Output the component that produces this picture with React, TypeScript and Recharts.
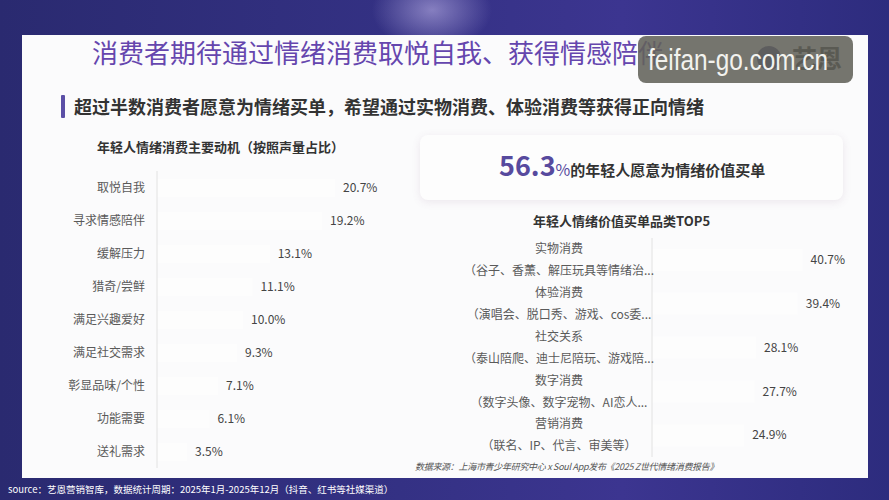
import React from 'react';
import { BarChart, Bar, XAxis, YAxis, LabelList } from 'recharts';

const motiveNames = ['取悦自我', '寻求情感陪伴', '缓解压力', '猎奇/尝鲜', '满足兴趣爱好', '满足社交需求', '彰显品味/个性', '功能需要', '送礼需求'];
const motiveValues = [20.7, 19.2, 13.1, 11.1, 10.0, 9.3, 7.1, 6.1, 3.5];

const categoryNames = ['实物消费', '体验消费', '社交关系', '数字消费', '营销消费'];
const categoryNotes = ['（谷子、香薰、解压玩具等情绪治...', '（演唱会、脱口秀、游戏、cos委...', '（泰山陪爬、迪士尼陪玩、游戏陪...', '（数字头像、数字宠物、AI恋人...', '（联名、IP、代言、审美等）'];
const categoryValues = [40.7, 39.4, 28.1, 27.7, 24.9];

const motiveData = motiveNames.map((name, i) => ({ name, value: motiveValues[i] }));
const categoryData = categoryNames.map((name, i) => ({ name, note: categoryNotes[i], value: categoryValues[i] }));

const FONT = '"Noto Sans CJK SC", "Noto Sans", sans-serif';
const fmt = (v: number) => `${v.toFixed(1)}%`;

const LeftTick = (props: any) => {
  const { x, y, payload } = props;
  return (
    <text x={x} y={y} dy="0.355em" textAnchor="end" fontSize={12} fill="#5a5a5a" fontFamily={FONT}>
      {payload.value}
    </text>
  );
};

const RightTick = (props: any) => {
  const { x, y, payload, index } = props;
  const note = categoryNotes[index] ?? '';
  return (
    <g>
      <text x={x - 93} y={y - 11} dy="0.355em" textAnchor="middle" fontSize={12} fill="#5a5a5a" fontFamily={FONT}>
        {payload.value}
      </text>
      <text x={x - 93} y={y + 11} dy="0.355em" textAnchor="middle" fontSize={12} fill="#5a5a5a" fontFamily={FONT}>
        {note}
      </text>
    </g>
  );
};

export default function App() {
  return (
    <div
      style={{
        position: 'absolute',
        left: 0,
        top: 0,
        width: 889,
        height: 500,
        overflow: 'hidden',
        fontFamily: FONT,
        background:
          'radial-gradient(ellipse 60px 40px at 432px 10px, rgba(200,190,240,0.55), rgba(200,190,240,0) 100%), linear-gradient(90deg, #2a2a70 0%, #343184 45%, #3c3590 70%, #2d2c7e 100%)',
      }}
    >
      {/* white card */}
      <div style={{ position: 'absolute', left: 22, top: 35, width: 846, height: 443, background: '#fbfbfc' }} />

      {/* title */}
      <div
        style={{
          position: 'absolute',
          left: 92,
          top: 34,
          fontSize: 26,
          whiteSpace: 'nowrap',
          lineHeight: '36px',
          fontWeight: 400,
          color: '#6546ae',
        }}
      >
        消费者期待通过情绪消费取悦自我、获得情感陪伴
      </div>

      {/* logo under watermark */}
      <div style={{ position: 'absolute', left: 757, top: 46, width: 24, height: 24, borderRadius: 12, background: '#3f3878' }} />
      <div style={{ position: 'absolute', left: 792, top: 40, fontSize: 25, fontWeight: 700, color: '#222', lineHeight: '34px' }}>艺恩</div>

      {/* watermark */}
      <div
        style={{
          position: 'absolute',
          left: 638,
          top: 36,
          width: 215,
          height: 47,
          borderRadius: 8,
          background: 'rgba(98,98,90,0.88)',
        }}
      />
      <div
        style={{
          position: 'absolute',
          left: 648,
          top: 41,
          fontSize: 29,
          color: '#f2f2ee',
          fontFamily: '"Liberation Sans", "Roboto", sans-serif',
          lineHeight: '38px',
          whiteSpace: 'nowrap',
          transform: 'scaleX(0.84)',
          transformOrigin: 'left center',
        }}
      >
        feifan-go.com.cn
      </div>

      {/* subtitle */}
      <div style={{ position: 'absolute', left: 61, top: 95, width: 4, height: 23, background: '#5b4fa6', borderRadius: 1 }} />
      <div style={{ position: 'absolute', left: 74, top: 94, fontSize: 18, fontWeight: 700, color: '#333', lineHeight: '24px', whiteSpace: 'nowrap' }}>
        超过半数消费者愿意为情绪买单，希望通过实物消费、体验消费等获得正向情绪
      </div>

      {/* left chart title */}
      <div style={{ position: 'absolute', left: 97, top: 138, fontSize: 13, fontWeight: 700, color: '#333', lineHeight: '18px', whiteSpace: 'nowrap' }}>
        年轻人情绪消费主要动机（按照声量占比）
      </div>

      {/* highlight box */}
      <div
        style={{
          position: 'absolute',
          left: 420,
          top: 135,
          width: 423,
          height: 65,
          borderRadius: 8,
          background: '#fdfdfd',
          boxShadow: '0 2px 8px rgba(120,80,120,0.12)',
        }}
      />
      <div style={{ position: 'absolute', left: 499, top: 148, whiteSpace: 'nowrap', lineHeight: '34px', display: 'flex', alignItems: 'baseline' }}>
        <span style={{ fontSize: 27, fontWeight: 700, color: '#574a9e' }}>56.3</span>
        <span style={{ fontSize: 16, color: '#574a9e' }}>%</span>
        <span style={{ fontSize: 15, fontWeight: 700, color: '#333' }}>的年轻人愿意为情绪价值买单</span>
      </div>

      {/* right chart title */}
      <div style={{ position: 'absolute', left: 533, top: 212, fontSize: 13, fontWeight: 700, color: '#333', lineHeight: '18px', whiteSpace: 'nowrap' }}>
        年轻人情绪价值买单品类TOP5
      </div>

      {/* left chart */}
      <div style={{ position: 'absolute', left: 20, top: 160 }}>
        <BarChart width={400} height={320} data={motiveData} layout="vertical" margin={{ top: 11, right: 48, bottom: 12, left: 0 }}>
          <XAxis type="number" domain={[0, 25]} hide />
          <YAxis
            type="category"
            dataKey="name"
            width={137}
            tickSize={0}
            tickMargin={12}
            axisLine={{ stroke: '#e2e2e2' }}
            tickLine={false}
            tick={<LeftTick />}
            interval={0}
          />
          <Bar dataKey="value" fill="#fdfdfd" barSize={18} isAnimationActive={false}>
            <LabelList dataKey="value" position="right" offset={8} formatter={(v: any) => fmt(Number(v))} fill="#444" fontSize={12} fontFamily={FONT} />
          </Bar>
        </BarChart>
      </div>

      {/* right chart */}
      <div style={{ position: 'absolute', left: 440, top: 228 }}>
        <BarChart width={420} height={240} data={categoryData} layout="vertical" margin={{ top: 10, right: 23, bottom: 11, left: 0 }}>
          <XAxis type="number" domain={[0, 50]} hide />
          <YAxis
            type="category"
            dataKey="name"
            width={212}
            tickSize={0}
            tickMargin={0}
            axisLine={{ stroke: '#e2e2e2' }}
            tickLine={false}
            tick={<RightTick />}
            interval={0}
          />
          <Bar dataKey="value" fill="#fdfdfd" barSize={22} isAnimationActive={false}>
            <LabelList dataKey="value" position="right" offset={8} formatter={(v: any) => fmt(Number(v))} fill="#444" fontSize={12} fontFamily={FONT} />
          </Bar>
        </BarChart>
      </div>

      {/* data source */}
      <div style={{ position: 'absolute', left: 415, top: 461, fontSize: 9, fontStyle: 'italic', color: '#555', whiteSpace: 'nowrap', lineHeight: '12px', letterSpacing: -0.3 }}>
        数据来源：上海市青少年研究中心 x Soul App发布《2025 Z世代情绪消费报告》
      </div>

      {/* footer */}
      <div style={{ position: 'absolute', left: 8, top: 483, fontSize: 9.5, color: '#ffffff', whiteSpace: 'nowrap', lineHeight: '13px' }}>
        source：艺恩营销智库，数据统计周期：2025年1月-2025年12月（抖音、红书等社媒渠道）
      </div>
    </div>
  );
}
